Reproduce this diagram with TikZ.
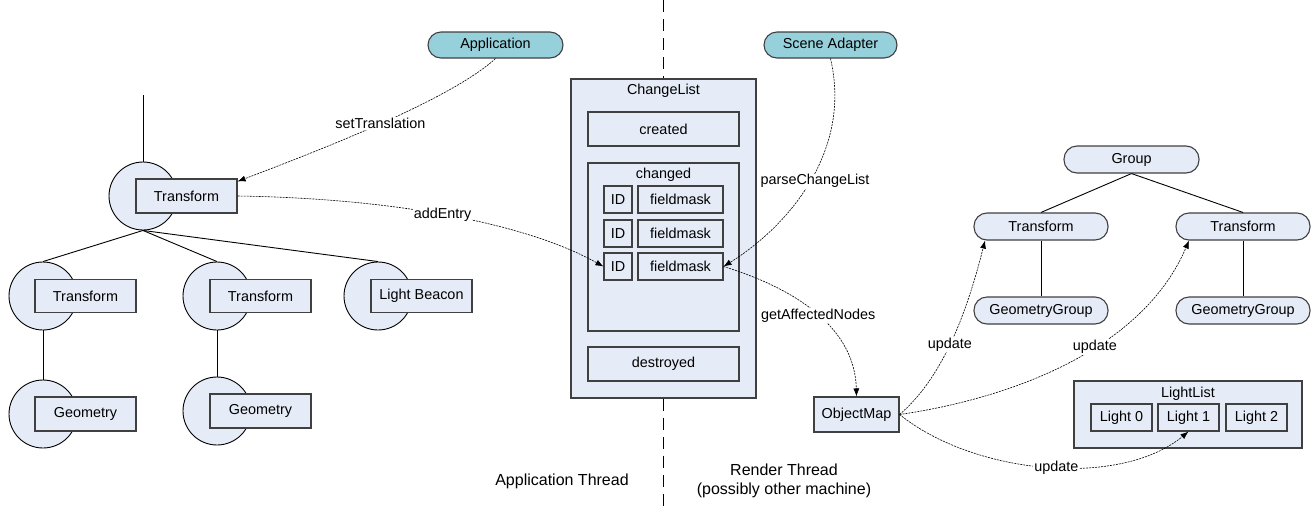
\documentclass[tikz,border=0pt]{standalone}
\usepackage{fontspec}
\setmainfont{Liberation Sans}
\usetikzlibrary{arrows.meta}
\definecolor{boxblue}{HTML}{E6ECF7}
\definecolor{appteal}{HTML}{96D0DB}
\definecolor{edge}{HTML}{404040}
\begin{document}
\begin{tikzpicture}[x=1pt,y=-1pt,
		every node/.style={font=\fontsize{14.4}{16}\selectfont},
		box/.style={draw=edge,line width=1.1pt,fill=boxblue,inner sep=0pt},
		bubble/.style={circle,draw=black,line width=0.9pt,fill=boxblue,minimum size=68pt,inner sep=0pt},
		pill/.style={box,rounded corners=13pt,minimum height=27pt},
		tree/.style={line width=0.9pt},
		msg/.style={line width=0.6pt,dash pattern=on 2pt off 1pt,-{Latex[length=8pt,width=6pt]}},
		lbl/.style={fill=white,inner sep=1pt},
		sep/.style={line width=1.4pt,dash pattern=on 12pt off 7pt}]
	\useasboundingbox (0,0) rectangle (1312,512);
	\coordinate (top) at (143,95);
	\coordinate (s1) at (663.5,0);
	\coordinate (s2) at (663.5,512);
	\node[bubble] (c0) at (143,196) {};
	\node[box,minimum width=101pt,minimum height=34pt] (b0) at (186.5,196) {Transform};
	\node[bubble] (c1) at (43,296) {};
	\node[box,minimum width=101pt,minimum height=33pt] (b1) at (85.5,296) {Transform};
	\node[bubble] (c2) at (217,296) {};
	\node[box,minimum width=101pt,minimum height=33pt] (b2) at (260.5,296) {Transform};
	\node[bubble] (c3) at (378,296) {};
	\node[box,minimum width=101pt,minimum height=33pt] (b3) at (421.5,296) {Light Beacon};
	\node[bubble] (c4) at (43,414) {};
	\node[box,minimum width=101pt,minimum height=34pt] (b4) at (85.5,414) {Geometry};
	\node[bubble] (c5) at (217,411) {};
	\node[box,minimum width=101pt,minimum height=34pt] (b5) at (260.5,411) {Geometry};
	\draw[tree] (top) -- (c0.north);
	\draw[tree] (c0.south) -- (c1.north);
	\draw[tree] (c0.south) -- (c2.north);
	\draw[tree] (c0.south) -- (c3.north);
	\draw[tree] (c1.south) -- (c4.north);
	\draw[tree] (c2.south) -- (c5.north);
	\node[pill,fill=appteal,minimum width=135pt,minimum height=26pt] (app) at (495.5,45) {Application};
	\node[pill,fill=appteal,minimum width=133pt,minimum height=26pt] (sa) at (830.5,45) {Scene Adapter};
	\node[box,minimum width=185pt,minimum height=319pt] (cl) at (663.5,238.5) {};
	\node (cltxt) at (663.5,91) {ChangeList};
	\node[box,minimum width=151pt,minimum height=34pt] (cr) at (663.5,129) {created};
	\node[box,minimum width=151pt,minimum height=168pt] (ch) at (663.5,247) {};
	\node (chtxt) at (663.5,175) {changed};
	\node[box,minimum width=28pt,minimum height=27pt] (id1) at (618,199.5) {ID};
	\node[box,minimum width=85pt,minimum height=27pt] (fm1) at (680.5,199.5) {fieldmask};
	\node[box,minimum width=28pt,minimum height=27pt] (id2) at (618,233.5) {ID};
	\node[box,minimum width=85pt,minimum height=27pt] (fm2) at (680.5,233.5) {fieldmask};
	\node[box,minimum width=28pt,minimum height=27pt] (id3) at (618,266.5) {ID};
	\node[box,minimum width=85pt,minimum height=27pt] (fm3) at (680.5,266.5) {fieldmask};
	\node[box,minimum width=151pt,minimum height=34pt] (de) at (663.5,364) {destroyed};
	\draw[sep] (s1) -- (cl.north);
	\draw[sep] (cl.south) -- (s2);
	\node[box,minimum width=85pt,minimum height=35pt] (om) at (856.5,414.5) {ObjectMap};
	\node[pill,minimum width=135pt] (grp) at (1131.5,159.5) {Group};
	\node[pill,minimum width=134pt] (tl) at (1041,226.5) {Transform};
	\node[pill,minimum width=134pt] (tr) at (1243,226.5) {Transform};
	\node[pill,minimum width=134pt] (gl) at (1041,310.5) {GeometryGroup};
	\node[pill,minimum width=134pt] (gr) at (1243,310.5) {GeometryGroup};
	\draw[tree] (grp.south) -- (tl.north);
	\draw[tree] (grp.south) -- (tr.north);
	\draw[tree] (tl.south) -- (gl.north);
	\draw[tree] (tr.south) -- (gr.north);
	\node[box,minimum width=228pt,minimum height=67pt] (ll) at (1188,414.5) {};
	\node (lltxt) at (1188,394) {LightList};
	\node[box,minimum width=61pt,minimum height=27pt] (l0) at (1121.5,417.5) {Light 0};
	\node[box,minimum width=61pt,minimum height=27pt] (l1) at (1188.5,417.5) {Light 1};
	\node[box,minimum width=61pt,minimum height=27pt] (l2) at (1256.5,417.5) {Light 2};
	\draw[msg] (app.south) .. controls (450,100) and (320,150) .. ([yshift=-3pt]b0.north east) node[lbl,pos=.5] {setTranslation};
	\draw[msg] (b0.east) .. controls (380,198) and (520,220) .. (id3.west) node[lbl,pos=.5] {addEntry};
	\draw[msg] (sa.south) .. controls (852,150) and (790,225) .. (fm3.east) node[lbl,pos=.5,xshift=5pt] {parseChangeList};
	\draw[msg] (fm3.east) .. controls (800,290) and (855,330) .. (om.north) node[lbl,pos=.5] {getAffectedNodes};
	\draw[msg] (om.east) .. controls (940,380) and (965,320) .. ([xshift=-56pt]tl.south) node[lbl,pos=.5] {update};
	\draw[msg] (om.east) .. controls (1000,400) and (1140,355) .. ([xshift=-54pt]tr.south) node[lbl,pos=.6] {update};
	\draw[msg] (om.east) .. controls (975,475) and (1120,488) .. (l1.south) node[lbl,pos=.53] {update};
	\node[font=\fontsize{16}{19}\selectfont] (at) at (562,481) {Application Thread};
	\node[font=\fontsize{16}{19}\selectfont,align=center] (rt) at (784,481) {Render Thread\\(possibly other machine)};
\end{tikzpicture}
\end{document}
